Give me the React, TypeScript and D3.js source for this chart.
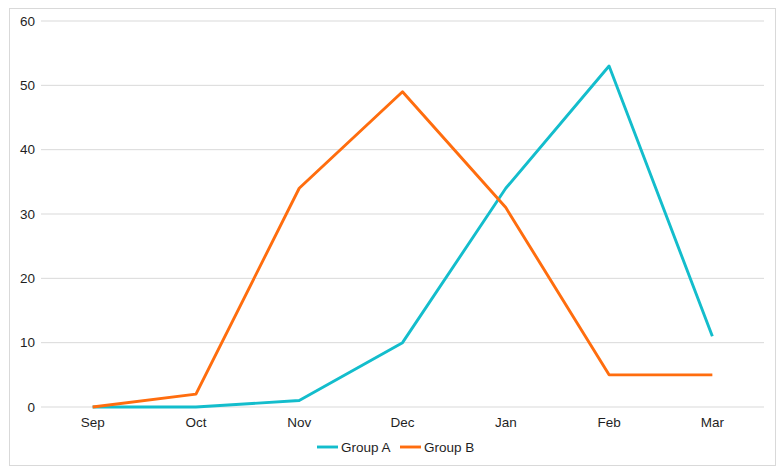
import React from "react";
import * as d3 from "d3";

const months = ["Sep", "Oct", "Nov", "Dec", "Jan", "Feb", "Mar"];
const groupA = [0, 0, 1, 10, 34, 53, 11];
const groupB = [0, 2, 34, 49, 31, 5, 5];
const yTicks = [0, 10, 20, 30, 40, 50, 60];
const seriesNames = ["Group A", "Group B"];
const colors = ["#13bdcc", "#ff6d0e"];

const App = () => {
  const width = 783;
  const height = 473;
  const plotLeft = 41;
  const plotRight = 764;
  const plotTop = 21;
  const plotBottom = 407;

  const x = d3.scaleBand().domain(months).range([plotLeft, plotRight]).padding(0);
  const y = d3.scaleLinear().domain([0, 60]).range([plotBottom, plotTop]);
  const cx = (m: string) => (x(m) || 0) + x.bandwidth() / 2;

  const line = d3
    .line<number>()
    .x((_, i) => cx(months[i]))
    .y((d) => y(d));

  const series = [groupA, groupB];
  const legendX = [317, 400];
  const textColor = "#1f1f1f";

  return (
    <svg
      width={width}
      height={height}
      style={{ position: "absolute", left: 0, top: 0 }}
      fontFamily="'Liberation Sans', Arial, sans-serif"
    >
      <rect x={0} y={0} width={width} height={height} fill="#fff" />
      <rect x={9.5} y={8.5} width={766} height={457} fill="#fff" stroke="#d9d9d9" />
      {yTicks.map((t) => (
        <g key={t}>
          <line x1={plotLeft} x2={plotRight} y1={y(t)} y2={y(t)} stroke="#d9d9d9" strokeWidth={1} />
          <text x={35} y={y(t)} dy="0.35em" textAnchor="end" fontSize={13.5} fill={textColor}>
            {t}
          </text>
        </g>
      ))}
      {months.map((m) => (
        <text key={m} x={cx(m)} y={427} textAnchor="middle" fontSize={13.5} fill={textColor}>
          {m}
        </text>
      ))}
      {series.map((s, i) => (
        <path
          key={i}
          d={line(s) || ""}
          fill="none"
          stroke={colors[i]}
          strokeWidth={2.9}
          strokeLinejoin="round"
        />
      ))}
      {seriesNames.map((n, i) => (
        <g key={n}>
          <line x1={legendX[i]} x2={legendX[i] + 21} y1={447} y2={447} stroke={colors[i]} strokeWidth={2.9} />
          <text x={legendX[i] + 24} y={447} dy="0.35em" fontSize={13.5} fill={textColor}>
            {n}
          </text>
        </g>
      ))}
    </svg>
  );
};

export default App;
